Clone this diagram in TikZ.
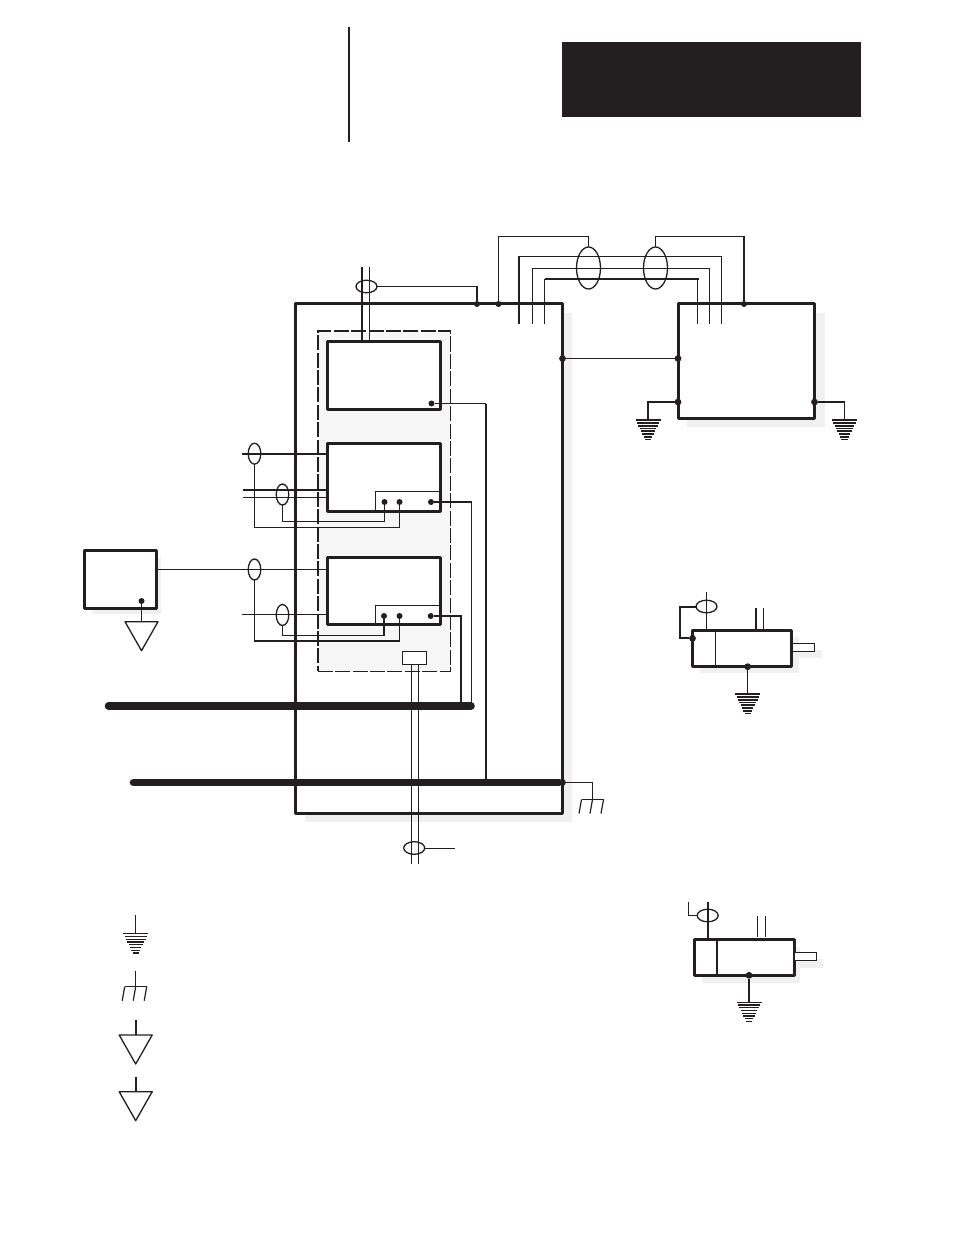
\documentclass[tikz,border=0pt]{standalone}
\usepackage{tikz}
\usetikzlibrary{shapes.geometric}
\definecolor{ink}{HTML}{231F20}
\definecolor{shadowgray}{HTML}{F0F0F0}
\definecolor{panelgray}{HTML}{F7F7F7}
\tikzset{
  box/.style={rectangle, draw, line width=1.5pt, fill=white, inner sep=0pt, outer sep=0pt, line join=round},
  subbox/.style={rectangle, draw, line width=0.5pt, inner sep=0pt, outer sep=0pt},
  dot/.style={circle, fill, inner sep=0pt, outer sep=0pt, minimum size=3pt},
  bigdot/.style={circle, fill, inner sep=0pt, outer sep=0pt, minimum size=3.4pt},
  vshield/.style={ellipse, draw, line width=0.65pt, inner sep=0pt, outer sep=0pt, minimum width=6.3pt, minimum height=10.5pt},
  hshield/.style={ellipse, draw, line width=0.65pt, inner sep=0pt, outer sep=0pt, minimum width=10.5pt, minimum height=6.3pt},
  wire/.style={line width=0.55pt},
  midwire/.style={line width=1pt},
  bus/.style={line width=3.8pt, line cap=round},
  pics/earth/.style={code={
    \foreach \i in {0,...,7}
      \draw[line width=#1] ({-12.5+\i*1.35},{0.7+\i*2.75}) -- ({12.5-\i*1.35},{0.7+\i*2.75});
  }},
  pics/chassis/.style={code={
    \draw[line width=0.6pt] (-11,0) -- (11,0);
    \foreach \i in {-11,0,11}
      \draw[line width=0.6pt] (\i,0) -- ({\i-2.5},14);
  }},
  pics/signal/.style={code={
    \draw[line width=0.65pt, line join=round] (-16.5,0) -- (16.5,0) -- (0,29) -- cycle;
  }},
}
\begin{document}
\begin{tikzpicture}[x=0.5pt, y=-0.5pt, color=ink]
    \useasboundingbox (0,0) rectangle (954,1235);

    % Title block
    \node[rectangle, fill, inner sep=0pt, minimum width=149.5pt, minimum height=37.5pt] (title) at (711.5,79.5) {};
    \coordinate (ruleT) at (349,27);
    \coordinate (ruleB) at (349,142);
    \draw[midwire] (ruleT) -- (ruleB);

    % Shadows
    \fill[shadowgray] (305,313) rectangle (572,822);
    \fill[shadowgray] (687,313) rectangle (825,427);
    \fill[shadowgray] (92,558) rectangle (161,613.5);
    \fill[shadowgray] (700,637) rectangle (799,673);
    \fill[shadowgray] (795,650) rectangle (822,658);
    \fill[shadowgray] (702,947) rectangle (800,983);
    \fill[shadowgray] (797,959) rectangle (823,967.5);

    % Cabinet and drive
    \node[box] (cabinet) at (429,558.5) [minimum width=133.4pt, minimum height=254.5pt] {};
    \node[rectangle, draw, fill=panelgray, dashed, dash pattern=on 7.5pt off 1.2pt, line width=0.8pt, inner sep=0pt, minimum width=66.3pt, minimum height=170pt] (panel) at (384,501.3) {};
    \node[box] (mod1) at (384,375) [minimum width=56.7pt, minimum height=34pt] {};
    \node[box] (mod2) at (384,477.5) [minimum width=56.7pt, minimum height=34pt] {};
    \node[box] (mod3) at (384,591) [minimum width=56.7pt, minimum height=33.7pt] {};
    \node[subbox] (term2) at (407.5,501) [minimum width=32.5pt, minimum height=10pt] {};
    \node[subbox] (term3) at (407.5,615) [minimum width=32.5pt, minimum height=9.5pt] {};
    \node[rectangle, draw, fill=white, line width=0.65pt, inner sep=0pt, minimum width=12pt, minimum height=6.3pt] (gland) at (414.7,658) {};
    \node[box] (drive) at (746.5,361) [minimum width=68.4pt, minimum height=57pt] {};
    \node[box] (source) at (120.2,579.3) [minimum width=35.8pt, minimum height=29.3pt] {};

    % Motors
    \node[box] (motorA) at (742,648.5) [minimum width=49.8pt, minimum height=18.2pt] {};
    \node[subbox, fill=white, line width=0.65pt] (shaftA) at (803.2,647.5) [minimum width=11.2pt, minimum height=4.2pt] {};
    \node[box] (motorB) at (744,957.3) [minimum width=50pt, minimum height=18pt] {};
    \node[subbox, fill=white, line width=0.65pt] (shaftB) at (805.2,956.3) [minimum width=11.2pt, minimum height=4pt] {};
    \draw[wire] (motorA.north -| 715.5,0) -- (motorA.south -| 715.5,0);
    \draw[midwire] (motorB.north -| 716.7,0) -- (motorB.south -| 716.7,0);

    % Dots
    \node[dot] (top1) at (477,304) {};
    \node[dot] (top2) at (498.5,304) {};
    \node[dot] (top3) at (744,304) {};
    \node[bigdot] (bondL) at (562.5,358.5) {};
    \node[bigdot] (bondR) at (678,358.5) {};
    \node[bigdot] (gndL) at (678,402) {};
    \node[bigdot] (gndR) at (814.5,402) {};
    \node[dot] (p1) at (431.5,403.5) {};
    \node[dot] (p2a) at (384.5,502) {};
    \node[dot] (p2b) at (399.5,502) {};
    \node[dot] (p2c) at (431,502) {};
    \node[dot] (p3a) at (384,616) {};
    \node[dot] (p3b) at (399.5,616) {};
    \node[dot] (p3c) at (430.7,616) {};
    \node[dot] (srcdot) at (141.5,601) {};
    \node[bigdot] (busend) at (562.5,782.5) {};
    \node[bigdot] (mA1) at (692.5,638.3) {};
    \node[bigdot] (mA2) at (747.7,666.7) {};
    \node[bigdot] (mB1) at (749,975.3) {};

    % Shields
    \node[vshield, minimum width=12pt, minimum height=21pt] (big1) at (588.5,268) {};
    \node[vshield, minimum width=12pt, minimum height=21pt] (big2) at (655.5,268) {};
    \node[hshield] (cs1) at (366.5,286.5) {};
    \node[vshield] (s2a) at (254.5,453.7) {};
    \node[vshield] (s2b) at (282.5,494.5) {};
    \node[vshield] (s3a) at (254.5,569.5) {};
    \node[vshield] (s3b) at (282.5,615) {};
    \node[hshield] (cs2) at (414.2,848) {};
    \node[hshield] (csA) at (706.5,606.5) {};
    \node[hshield] (csB) at (707.7,915.5) {};

    % Wiring above the cabinet
    \draw[wire] (cs1.east) -| (top1);
    \draw[wire] (top2) -- ++(0,-67.5) -| (big1.north);
    \draw[wire] (big2.north) -- ++(0,-10.5) -| (top3);
    \draw[midwire] (744,236.5) -- (top3);
    \coordinate (upA1) at (519,324);
    \coordinate (upA2) at (721.5,324);
    \coordinate (upB1) at (532.5,324);
    \coordinate (upB2) at (709.5,324);
    \coordinate (upC1) at (544.5,324);
    \coordinate (upC2) at (697.5,324);
    \draw[wire] (upA1) -- ++(0,-67.5) -| (upA2);
    \draw[midwire] (upA1) -- ++(0,-67.5);
    \draw[wire] (upB1) -- ++(0,-55.5) -| (upB2);
    \draw[midwire] (upC1 |- 0,279) -| (upC2 |- 0,280);
    \draw[wire] (upC1) -- ++(0,-45);
    \draw[wire] (upC2) -- ++(0,-45);
    \draw[wire] (bondL) -- (bondR);

    % Drive grounds
    \coordinate (earthL) at (648,419.5);
    \coordinate (earthR) at (844.5,419.5);
    \draw[midwire] (gndL) -| (earthL);
    \draw[wire] (gndR) -| (earthR);
    \pic at (earthL) {earth=0.9pt};
    \pic at (earthR) {earth=0.9pt};

    % Feedback cable
    \coordinate (fbT1) at (362,267);
    \coordinate (fbT2) at (369.5,267);
    \draw[wire] (fbT1) -- (fbT1 |- mod1.north);
    \draw[wire] (fbT2) -- (fbT2 |- mod1.north);

    % Module 2 wiring
    \coordinate (in2a) at (241.7,453.7);
    \coordinate (in2b) at (243,489.7);
    \coordinate (in2c) at (243,497.5);
    \draw[midwire] (in2a) -- (in2a -| mod2.west);
    \draw[midwire] (in2b) -- (in2b -| mod2.west);
    \draw[wire] (in2c) -- (in2c -| mod2.west);
    \draw[wire] (p2a) -- ++(0,19.5) -| (s2b.south);
    \draw[wire] (p2b) -- ++(0,25.5) -| (s2a.south);

    % Module 3 wiring
    \coordinate (srcout) at (156,569.5);
    \coordinate (in3) at (242,614.5);
    \draw[wire] (srcout) -- (srcout -| mod3.west);
    \draw[wire] (in3) -- (in3 -| mod3.west);
    \draw[wire] (p3a) -- ++(0,19.5) -| (s3b.south);
    \draw[midwire] (p3a) -- ++(0,19.5);
    \draw[wire] (p3b) -- ++(0,25) -| (s3a.south);

    % Source ground
    \coordinate (triS) at (141.5,621.7);
    \draw[wire] (srcdot) -- (triS);
    \pic at (triS) {signal};

    % Bus bars
    \coordinate (busAl) at (108.5,706);
    \coordinate (busAr) at (471,706);
    \coordinate (busBl) at (133.5,782.5);
    \draw[wire] (p2c) -| (471.5,706);
    \draw[midwire] (p3c) -| (460.7,706);
    \draw[wire] (p1) -| (485.5,782.5);
    \draw[midwire] (485.5,404) -- (485.5,782.5);
    \draw[bus] (busAl) -- (busAr);
    \draw[bus] (busBl) -- (busend);

    % Cabinet bond to chassis ground
    \coordinate (chassisC) at (592.5,799.5);
    \draw[wire] (busend) -| (chassisC);
    \pic at (chassisC) {chassis};

    % Power cable
    \coordinate (pwL) at (411.5,864);
    \coordinate (pwR) at (418.5,864);
    \coordinate (csTail) at (455,848.5);
    \draw[wire] (pwL) -- (pwL |- gland.south);
    \draw[wire] (pwR) -- (pwR |- gland.south);
    \draw[wire] (cs2.east |- csTail) -- (csTail);

    % Motor A
    \coordinate (fbA) at (706.5,592);
    \coordinate (pwA1) at (756,608);
    \coordinate (pwA2) at (763.5,608);
    \coordinate (earthA) at (747.7,693.5);
    \draw[wire] (fbA) -- (fbA |- motorA.north);
    \draw[midwire] (pwA1) -- (pwA1 |- motorA.north);
    \draw[wire] (pwA2) -- (pwA2 |- motorA.north);
    \draw[midwire] (mA1) -- ++(-12.8,0) |- (csA.west);
    \draw[wire] (mA2) -- (earthA);
    \pic at (earthA) {earth=0.9pt};

    % Motor B
    \coordinate (fbB) at (707.7,902);
    \coordinate (stubB) at (688.5,902);
    \coordinate (pwB1) at (757.5,916);
    \coordinate (pwB2) at (765.5,916);
    \coordinate (earthB) at (749,1001.5);
    \draw[midwire] (fbB) -- (fbB |- motorB.north);
    \draw[wire] (stubB) |- (csB.west);
    \draw[wire] (pwB1) -- ++(0,20.5);
    \draw[wire] (pwB2) -- ++(0,20.5);
    \draw[midwire] (mB1) -- (earthB);
    \pic at (earthB) {earth=0.55pt};

    % Legend
    \coordinate (legA1) at (135.7,915);
    \coordinate (legA2) at (135.7,933);
    \coordinate (legB1) at (135.7,970.7);
    \coordinate (legB2) at (135.7,986.7);
    \coordinate (legC1) at (135.7,1020);
    \coordinate (legC2) at (135.7,1035);
    \coordinate (legD1) at (135.7,1077);
    \coordinate (legD2) at (135.7,1091.7);
    \draw[wire] (legA1) -- (legA2);
    \draw[wire] (legB1) -- (legB2);
    \draw[midwire] (legC1) -- (legC2);
    \draw[midwire] (legD1) -- (legD2);
    \pic at (legA2) {earth=0.55pt};
    \pic at (legB2) {chassis};
    \pic at (legC2) {signal};
    \pic at (legD2) {signal};
\end{tikzpicture}
\end{document}
